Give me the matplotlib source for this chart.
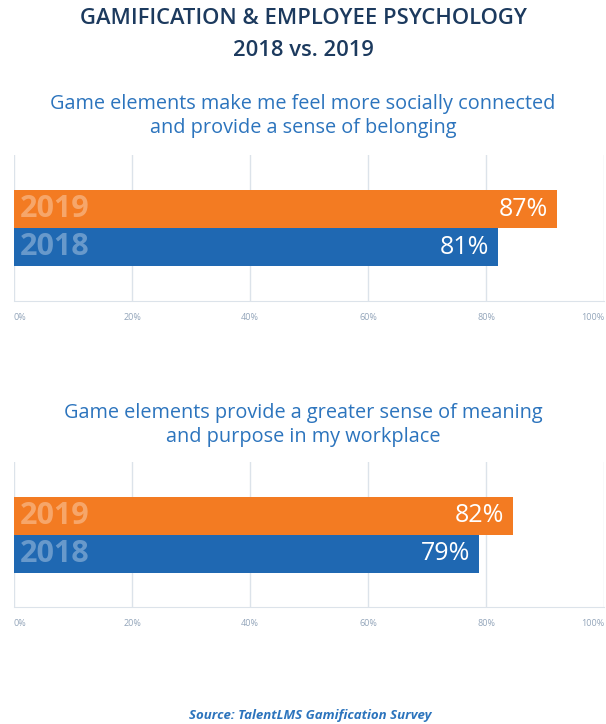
import matplotlib.pyplot as plt

# survey questions (one panel each)
questions = [
    "Game elements make me feel more socially connected\nand provide a sense of belonging",
    "Game elements provide a greater sense of meaning\nand purpose in my workplace",
]
years = ["2018", "2019"]

# bar lengths as drawn against the axis, and the printed labels
bars_2018 = [82, 78.8]
bars_2019 = [92, 84.6]
labels_2018 = ["81%", "79%"]
labels_2019 = ["87%", "82%"]

ticks = [0, 20, 40, 60, 80, 100]
tick_labels = ["0%", "20%", "40%", "60%", "80%", "100%"]

ORANGE = "#F37B22"
BLUE = "#1F68B2"
NAVY = "#1C3A5E"
SUB_BLUE = "#2C74BD"
GRID = "#DCE3EA"
TICK = "#93A5BA"

plt.rcParams['font.family'] = ['Open Sans', 'DejaVu Sans']

fig = plt.figure(figsize=(6.06, 7.24), dpi=100)

fig.text(0.5, 1 - 19 / 724, "GAMIFICATION & EMPLOYEE PSYCHOLOGY", ha='center', va='center',
         fontsize=15.8, fontweight='semibold', color=NAVY)
fig.text(0.5, 1 - 51 / 724, "2018 vs. 2019", ha='center', va='center',
         fontsize=15.8, fontweight='semibold', color=NAVY)

# panel positions: (subtitle centre y, axes top y, axes bottom y) in pixels
panels = [(116, 155, 301), (425, 462, 607)]

for i, (sub_y, top, bottom) in enumerate(panels):
    fig.text(0.5, 1 - sub_y / 724, questions[i], ha='center', va='center',
             fontsize=14.3, color=SUB_BLUE, linespacing=1.3)

    ax = fig.add_axes([14 / 606, 1 - bottom / 724, 590 / 606, (bottom - top) / 724])
    ax.barh(0, bars_2018[i], height=1.0, color=BLUE, zorder=2)
    ax.barh(1, bars_2019[i], height=1.0, color=ORANGE, zorder=2)

    # year names inside the bars
    for y, yr in zip([0, 1], years):
        ax.text(1.0, y, yr, ha='left', va='center', fontsize=22, fontweight='bold',
                color='white', alpha=0.33, zorder=3)
    ax.text(bars_2018[i] - 1.5, 0, labels_2018[i], ha='right', va='center',
            fontsize=18, color='white', zorder=3)
    ax.text(bars_2019[i] - 1.5, 1, labels_2019[i], ha='right', va='center',
            fontsize=18, color='white', zorder=3)

    ax.set_xlim(0, 100)
    ax.set_ylim(-1.41, 2.43)
    ax.set_xticks(ticks)
    ax.set_xticklabels(tick_labels)
    ax.set_yticks([])
    ax.grid(axis='x', color=GRID, linewidth=1, zorder=0)
    for side in ['top', 'right', 'left']:
        ax.spines[side].set_visible(False)
    ax.spines['bottom'].set_color(GRID)
    ax.tick_params(axis='x', length=0, pad=9, labelsize=6.5, labelcolor=TICK)
    ax.get_xticklabels()[-1].set_horizontalalignment('right')
    ax.get_xticklabels()[0].set_horizontalalignment('left')

fig.text(310 / 606, 1 - 716 / 724, "Source: TalentLMS Gamification Survey", ha='center', va='center',
         fontsize=9.5, fontweight='bold', fontstyle='italic', color=SUB_BLUE)

plt.savefig("out.png", dpi=100)
